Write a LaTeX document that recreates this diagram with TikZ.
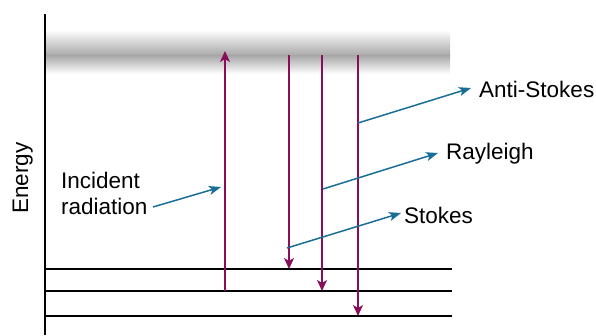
\documentclass[tikz,border=0pt]{standalone}
\usepackage{fontspec}
\setmainfont{Liberation Sans}
\usetikzlibrary{arrows.meta}
\definecolor{trans}{RGB}{140,12,92}
\definecolor{callout}{RGB}{24,110,150}
\tikzset{
  lbl/.style={inner sep=0pt, font=\fontsize{22.5}{26}\selectfont, text=black},
  transition/.style={draw=trans, line width=1.5pt, -{Stealth[length=11pt,width=10pt,inset=3pt]}},
  pointer/.style={draw=callout, line width=1.5pt, -{Stealth[length=12pt,width=9pt,inset=3pt]}},
  level/.style={draw=black, line width=2.9pt},
}
\begin{document}
\begin{tikzpicture}[x=1pt,y=-1pt]
\useasboundingbox (0,0) rectangle (596,335);
% virtual state band
\shade[top color=white, bottom color=gray!18] (45,30) rectangle (450,36);
\shade[top color=gray!18, bottom color=gray!68] (45,36) rectangle (450,55.5);
\shade[top color=gray!68, bottom color=white] (45,55.5) rectangle (450,74);
% energy axis
\draw[line width=1.6pt] (45,14) -- (45,335);
% levels
\draw[level] (45,269) -- (452,269);
\draw[level] (45,291) -- (452,291);
\draw[level] (45,316) -- (452,316);
% transition coordinates
\coordinate (incB) at (225,291);
\coordinate (incT) at (225,51);
\coordinate (stT) at (289,55);
\coordinate (stB) at (289,269);
\coordinate (raT) at (322,55);
\coordinate (raB) at (322,291);
\coordinate (asT) at (358,55);
\coordinate (asB) at (358,316);
\draw[transition] (incB) -- (incT);
\draw[transition] (stT) -- (stB);
\draw[transition] (raT) -- (raB);
\draw[transition] (asT) -- (asB);
% labels
\node[lbl, anchor=base west] (anti) at (479,97) {Anti-Stokes};
\node[lbl, anchor=base west] (ray) at (446,159) {Rayleigh};
\node[lbl, anchor=base west] (stokes) at (404,223) {Stokes};
\node[lbl, anchor=base west, align=left] (inc) at (61,214) {Incident\\radiation};
\node[lbl, rotate=90, anchor=base] (energy) at (28,178) {Energy};
% pointer start points
\coordinate (asP) at (358,123);
\coordinate (raP) at (323,189);
\coordinate (stP) at (287,248);
\coordinate (incP) at (153,207);
\coordinate (incE) at (221,187);
\coordinate (asE) at (471,88);
\coordinate (raE) at (438,153);
\coordinate (stE) at (401,213);
\draw[pointer] (asP) -- (asE);
\draw[pointer] (raP) -- (raE);
\draw[pointer] (stP) -- (stE);
\draw[pointer] (incP) -- (incE);
\end{tikzpicture}
\end{document}
